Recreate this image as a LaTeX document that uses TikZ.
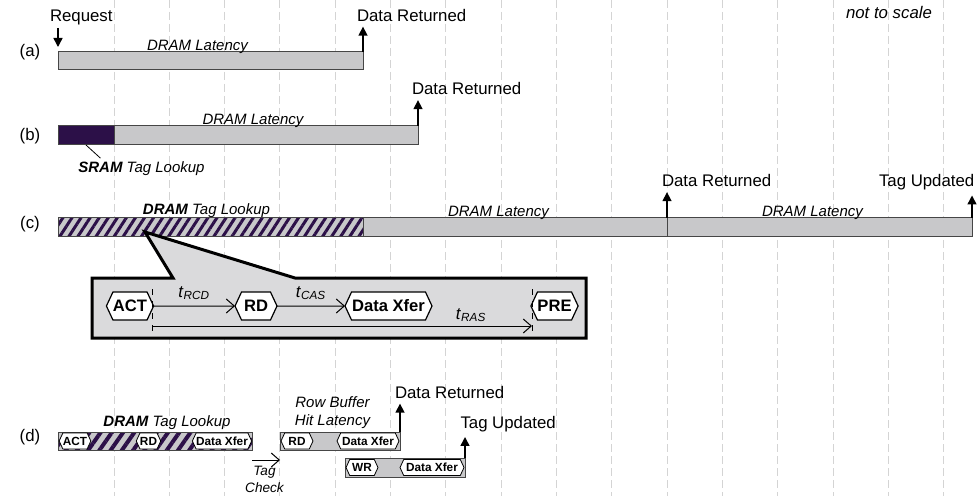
\documentclass[tikz,border=0pt]{standalone}
\usepackage{fontspec}
\setmainfont{Liberation Sans}
\usetikzlibrary{arrows.meta,
                patterns.meta,
                positioning,
                shapes.symbols}
\definecolor{barfill}{RGB}{200,200,202}
\definecolor{barline}{RGB}{70,70,70}
\definecolor{boxfill}{RGB}{218,218,220}
\definecolor{tagpurple}{RGB}{44,16,72}
\definecolor{gridgray}{RGB}{212,212,212}

\begin{document}
\begin{tikzpicture}[x=0.5pt, y=-0.5pt,
every node/.style={
        font=\fontsize{8.4}{10}\selectfont, inner sep=0pt, outer sep=0pt
    },
    lat/.style = {font=\fontsize{7.5}{9}\selectfont\itshape, align=center},
    bar/.style = {draw=barline, line width=0.5pt, fill=barfill,
                  minimum height=9pt, anchor=north west},
 hatchbar/.style = {draw=barline, line width=0.5pt, preaction={fill=barfill},
                  pattern={Lines[angle=57,distance=3.8pt,line width=1.5pt]},
                  pattern color=tagpurple, minimum height=9.5pt, anchor=north west},
    hex/.style = {signal, signal to=west and east, signal pointer angle=130,
                  draw, fill=white, line width=0.6pt, minimum height=14pt,
                  font=\fontsize{8.3}{10}\selectfont\bfseries},
 smallhex/.style = {hex, line width=0.4pt, minimum height=8pt,
                  font=\fontsize{5.9}{7}\selectfont\bfseries},
    ret/.style = {-{Triangle[length=4.5pt,width=4.5pt]}, line width=0.75pt,
                  shorten >=2.5pt},
    barb/.style = {-{Straight Barb[length=4pt,width=7pt]}, line width=0.5pt},
    gridline/.style = {gridgray, line width=0.5pt, dash pattern=on 4pt off 2pt}
    ]
\useasboundingbox (0,0) rectangle (977,496);
% time grid
\foreach \k in {0,...,15}
    \draw[gridline] ({114+55.33*\k},0) -- ({114+55.33*\k},496);

\node[anchor=base] (scale) at (889,18.5) {\itshape not to scale};

%% (a)
\node (la) at (30,52) {(a)};
\node[bar, minimum width=152.5pt] (aBar) at (58,52) {};
\node[lat, anchor=base] at (197.5,51) {DRAM Latency};
\node[anchor=base west] (req) at (50,21.5) {Request};
\node[anchor=base west] (aRet) at (357,21.5) {Data Returned};
\draw[ret, shorten <=1.5pt] (req.south -| aBar.north west) -- (aBar.north west);
\draw[ret] (aBar.north east) -- (aBar.north east |- aRet.south);

%% (b)
\node (lb) at (30,136) {(b)};
\node[bar, minimum width=180pt, minimum height=9.5pt] (bBar) at (58,126) {};
\node[bar, fill=tagpurple, minimum width=28pt, minimum height=9.5pt] (sram) at (58,126) {};
\node[lat, anchor=base] at (253,125) {DRAM Latency};
\node[lat, anchor=base] (sramLbl) at (141.5,173) {\textbf{SRAM} Tag Lookup};
\node[anchor=base west] (bRet) at (412,95) {Data Returned};
\draw[line width=0.4pt] (sram.south) -- ([shift={(22,-4)}]sramLbl.north west);
\draw[ret] (bBar.north east) -- (bBar.north east |- bRet.south);

%% (c)
\node (lc) at (30,224) {(c)};
\node[hatchbar, minimum width=152.5pt] (cTag) at (58,218) {};
\node[bar, minimum width=152pt, minimum height=9.5pt] (cLat1) at (cTag.north east) {};
\node[bar, minimum width=152.5pt, minimum height=9.5pt] (cLat2) at (cLat1.north east) {};
\node[lat, anchor=base] at (206.5,215) {\textbf{DRAM} Tag Lookup};
\node[lat, anchor=base] at (498.5,216.5) {DRAM Latency};
\node[lat, anchor=base] at (812.5,216.5) {DRAM Latency};
\node[anchor=base west] (cRet) at (662,187) {Data Returned};
\node[anchor=base west] (cUpd) at (879,187) {Tag Updated};
\draw[ret] (cLat1.north east) -- (cLat1.north east |- cRet.south);
\draw[ret] (cLat2.north east) -- (cLat2.north east |- cUpd.south);

% callout with the DRAM commands
\coordinate (tip) at (145,232);
\draw[line width=1.5pt, fill=boxfill]
    (92,278) -- (173,278) -- (tip) -- (295,278) -- (586,278)
    -- (586,338) -- (92,338) -- cycle;
\node[hex, minimum width=22pt] (act) at (130,306) {ACT};
\node[hex, minimum width=21pt] (rd) at (256,306) {RD};
\node[hex, minimum width=43.5pt] (xfer) at (388.5,306) {Data Xfer};
\node[hex, minimum width=21.5pt] (pre) at (554.5,306) {PRE};
\coordinate (rasL) at (152,326);
\coordinate (rasR) at (532,326);
\draw[dashed, line width=0.4pt] (152,289) -- (152,331);
\draw[dashed, line width=0.4pt] (532,289) -- (532,331);
\path[barb]
    (act) edge node[above=3pt] {\textit{t}\textsubscript{\itshape RCD}} (rd)
    (rd)  edge node[above=3pt] {\textit{t}\textsubscript{\itshape CAS}} (xfer)
    (rasL) edge node[pos=0.84, above=2pt] {\textit{t}\textsubscript{\itshape RAS}} (rasR);

%% (d)
\node (ld) at (30,437.5) {(d)};
\node[hatchbar, minimum height=9pt, minimum width=97pt,
      pattern={Lines[angle=55,distance=4.6pt,line width=2pt]}] (dTag) at (58,432) {};
\node[smallhex, minimum width=15pt] (dAct) at (75,441) {ACT};
\node[smallhex, minimum width=11.5pt] (dRd) at (148.5,441) {RD};
\node[smallhex, minimum width=29pt] (dXfer) at (222,441) {Data Xfer};
\node[lat, anchor=base] at (167,426) {\textbf{DRAM} Tag Lookup};

\node[bar, minimum width=60pt] (dHit) at (280,432) {};
\node[smallhex, minimum width=16pt] (hRd) at (297,441) {RD};
\node[smallhex, minimum width=31pt] (hXfer) at (368,441) {Data Xfer};
\node[lat, anchor=base] at (332.5,425) {Row Buffer\\Hit Latency};

\node[bar, minimum width=60pt, minimum height=9.5pt] (dWr) at (345,458) {};
\node[smallhex, minimum width=16pt] (wWr) at (362,467.5) {WR};
\node[smallhex, minimum width=32pt] (wXfer) at (432,467.5) {Data Xfer};

\node[anchor=base west] (dRet) at (395,398.5) {Data Returned};
\node[anchor=base west] (dUpd) at (460.5,428.5) {Tag Updated};
\draw[ret] (dHit.north east) -- (dHit.north east |- dRet.south);
\draw[ret] (dWr.north east) -- (dWr.north east |- dUpd.south);

\draw[barb] ([yshift=-5pt]dTag.south east) -- ([yshift=-5pt]dHit.south west);
\node[lat, font=\fontsize{6.8}{8.4}\selectfont\itshape, anchor=base]
    (chk) at (264.5,492) {Tag\\Check};
\end{tikzpicture}
\end{document}
